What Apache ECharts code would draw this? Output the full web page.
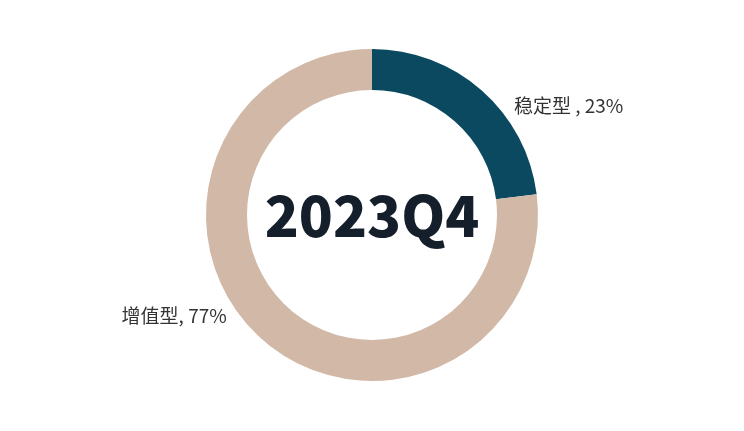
<!DOCTYPE html>
<html><head><meta charset="utf-8">
<script src="https://cdn.jsdelivr.net/npm/echarts@6/dist/echarts.min.js"></script>
<style>html,body{margin:0;padding:0;background:#fff}#c{width:744px;height:431px}</style>
</head><body><div id="c"></div>
<script>
const names = ['稳定型 ', '增值型'];
const values = [23, 77];
const colors = ['#0b4960', '#d2b8a6'];
const centerText = '2023Q4';

// label leader geometry (line hidden) per slice
const labelLineStyles = [
  {show: false, length: -21, length2: 41},
  {show: false, length: -31, length2: 51}
];

const chart = echarts.init(document.getElementById('c'), null, {renderer: 'canvas'});
chart.setOption({
  backgroundColor: '#fff',
  animation: false,
  title: {
    text: centerText,
    left: 'center',
    top: 'middle',
    textStyle: {fontFamily: '"Noto Sans CJK SC"', fontWeight: 900, fontSize: 56, color: '#141f2b'}
  },
  series: [{
    type: 'pie',
    center: [372, 215],
    radius: [125, 166],
    startAngle: 90,
    clockwise: true,
    avoidLabelOverlap: false,
    label: {
      show: true,
      position: 'outside',
      formatter: '{b}, {c}%',
      fontFamily: '"Noto Sans CJK SC"',
      fontSize: 19,
      color: '#333'
    },
    labelLine: {show: false},
    emphasis: {disabled: true},
    data: names.map((n, i) => ({
      name: n, value: values[i],
      itemStyle: {color: colors[i]},
      labelLine: labelLineStyles[i]
    }))
  }]
});
</script></body></html>
